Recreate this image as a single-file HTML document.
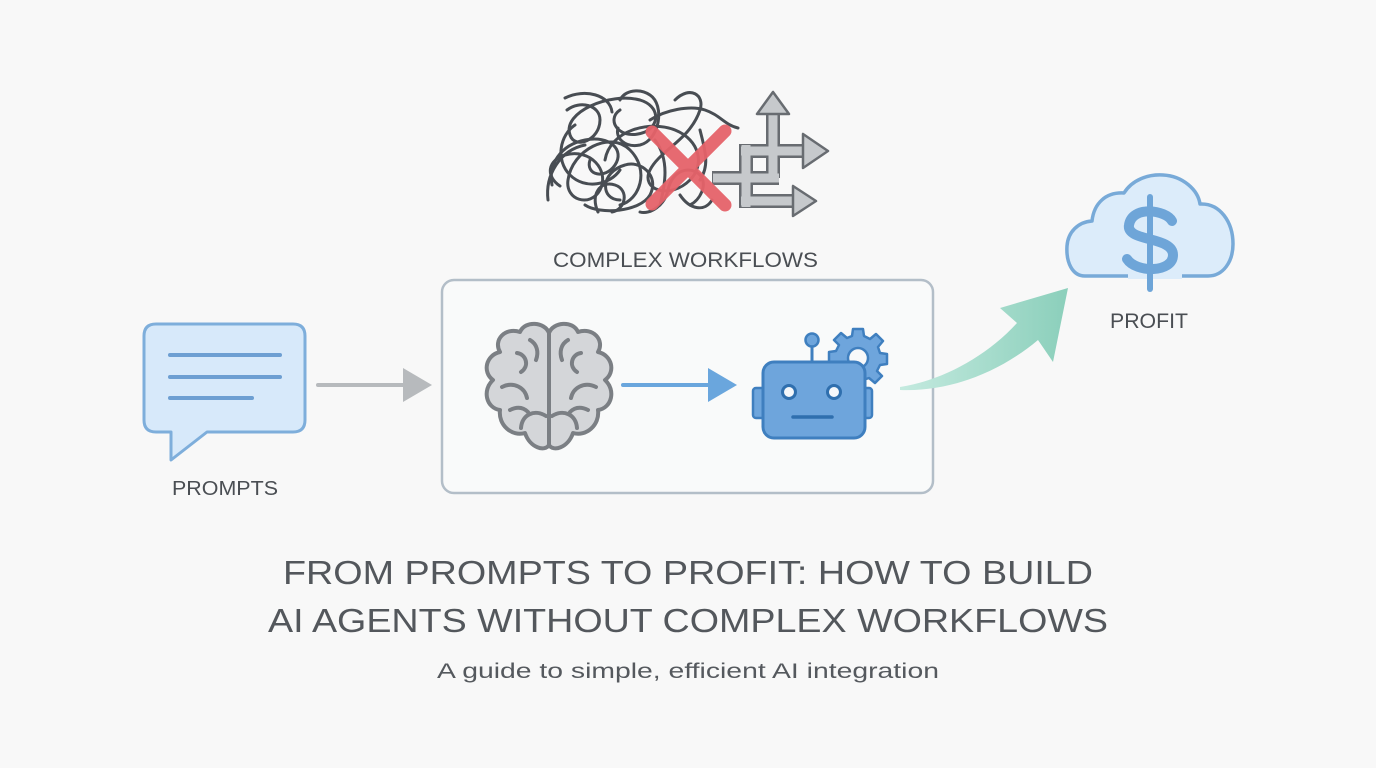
<!DOCTYPE html>
<html><head><meta charset="utf-8"><style>
html,body{margin:0;padding:0;background:#f8f8f8;}
svg{display:block;}
text{font-family:"Liberation Sans","DejaVu Sans",sans-serif;}
</style></head><body>
<svg width="1376" height="768" viewBox="0 0 1376 768" xmlns="http://www.w3.org/2000/svg">
<rect width="1376" height="768" fill="#f8f8f8"/>
<defs>
<linearGradient id="g1" x1="0" y1="0" x2="1" y2="0">
<stop offset="0" stop-color="#c4eadf"/><stop offset="1" stop-color="#8bcfbb"/>
</linearGradient>
</defs>

<!-- scribble -->
<g fill="none" stroke="#484d53" stroke-width="3" stroke-linecap="round">
<path d="M560,186 C545,176 548,160 565,155 C590,148 610,170 600,190 C590,208 565,200 568,180 C572,150 610,130 630,150 C650,170 640,200 620,205"/>
<path d="M567,110 C580,100 600,105 600,120 C600,140 575,150 570,135 C562,112 610,92 640,100 C660,106 660,125 645,132 C620,142 605,120 620,110"/>
<path d="M585,205 C600,215 640,212 650,195 C660,175 640,160 625,165 C600,172 600,200 620,200"/>
<path d="M605,160 C610,130 650,120 675,130 C700,140 705,165 690,180 C670,200 640,190 650,170 C660,150 690,140 700,110 C705,95 690,85 675,100"/>
<path d="M650,120 C665,110 690,105 705,110 C720,115 725,125 738,128"/>
<path d="M552,185 C548,165 560,145 585,140 C610,135 625,150 615,165 C605,180 585,175 590,160"/>
<path d="M575,125 C560,135 555,160 570,175 C585,190 610,185 620,170"/>
<path d="M640,212 C650,215 665,205 668,190 C672,170 690,165 700,175 C708,185 700,200 690,205"/>
<path d="M620,100 C625,90 640,88 650,95 C665,105 660,140 640,145 C625,148 615,138 618,128"/>
<path d="M700,130 C705,150 710,165 700,180"/>
<path d="M655,140 C670,160 665,185 660,205"/>
<path d="M548,200 C545,175 560,150 585,145"/>
<path d="M565,98 C585,88 610,95 612,112"/>
<path d="M598,212 C590,195 600,180 615,185 C630,190 625,210 612,212"/>
<path d="M680,195 C690,210 705,212 712,200"/>
</g>

<!-- gray pipes -->
<g fill="none" stroke-linecap="butt">
<g stroke="#686c71" stroke-width="14">
<path d="M712,178 H779"/><path d="M746,144 V208"/><path d="M773,178 V112"/><path d="M740,151 H805"/><path d="M740,201 H795"/>
</g>
<g stroke="#c6c9cc" stroke-width="9">
<path d="M713,178 H779"/><path d="M746,145 V207"/><path d="M773,178 V112"/><path d="M741,151 H805"/><path d="M741,201 H795"/>
</g>
</g>
<g fill="#c6c9cc" stroke="#686c71" stroke-width="2.5" stroke-linejoin="round">
<polygon points="757,114 789,114 773,92"/>
<polygon points="803,134 803,168 828,151"/>
<polygon points="793,186 793,216 816,201"/>
</g>

<!-- red X -->
<g stroke="#e6636a" stroke-width="13" stroke-linecap="round" opacity="0.95">
<line x1="652" y1="132" x2="725" y2="205"/>
<line x1="725" y1="131" x2="652" y2="204"/>
</g>

<text x="553" y="267" font-size="21" fill="#4a4e53" textLength="265" lengthAdjust="spacingAndGlyphs">COMPLEX WORKFLOWS</text>

<!-- speech bubble -->
<path d="M156,324 H293 Q305,324 305,336 V420 Q305,432 293,432 H207 L171,460 V432 H156 Q144,432 144,420 V336 Q144,324 156,324 Z" fill="#d7e9fa" stroke="#7eaedb" stroke-width="3" stroke-linejoin="round"/>
<g stroke="#6d9fd2" stroke-width="4" stroke-linecap="round">
<line x1="170" y1="355" x2="280" y2="355"/>
<line x1="170" y1="377" x2="280" y2="377"/>
<line x1="170" y1="398" x2="252" y2="398"/>
</g>
<text x="172" y="495" font-size="20" fill="#4a4e53" textLength="106" lengthAdjust="spacingAndGlyphs">PROMPTS</text>

<!-- gray arrow -->
<line x1="318" y1="385" x2="408" y2="385" stroke="#b7babd" stroke-width="4" stroke-linecap="round"/>
<polygon points="403,368 432,385 403,402" fill="#b7babd"/>

<!-- box -->
<rect x="442" y="280" width="491" height="213" rx="12" fill="#f9fafa" stroke="#b3bec8" stroke-width="2.5"/>

<!-- brain -->
<g fill="#d4d6d9" stroke="#7b7f84" stroke-width="4" stroke-linejoin="round">
<path d="M549,333 C545,322 525,320 520,332 C505,327 493,340 500,352 C486,355 482,372 493,380 C482,390 486,408 500,410 C498,425 512,437 525,433 C530,448 545,452 549,445 Z"/>
<path d="M549,333 C553,322 573,320 578,332 C593,327 605,340 598,352 C612,355 616,372 605,380 C616,390 612,408 598,410 C600,425 586,437 573,433 C568,448 553,452 549,445 Z"/>
</g>
<g fill="none" stroke="#7b7f84" stroke-width="4" stroke-linecap="round">
<path d="M517,353 C526,354 530,366 521,372"/>
<path d="M502,387 C514,381 525,388 527,398"/>
<path d="M521,428 C522,414 535,409 546,416"/>
<path d="M530,340 C537,344 539,352 536,360"/>
<path d="M510,410 C518,406 524,408 528,412"/>
<path d="M581,353 C572,354 568,366 577,372"/>
<path d="M596,387 C584,381 573,388 571,398"/>
<path d="M577,428 C576,414 563,409 552,416"/>
<path d="M568,340 C561,344 559,352 562,360"/>
<path d="M588,410 C580,406 574,408 570,412"/>
</g>

<!-- blue arrow -->
<line x1="623" y1="385" x2="713" y2="385" stroke="#6aa6dd" stroke-width="4" stroke-linecap="round"/>
<polygon points="708,368 737,385 708,402" fill="#6aa6dd"/>

<!-- gear -->
<g transform="translate(858,358)">
<g fill="#6ea5dc" stroke="#3f7fbf" stroke-width="2.5" stroke-linejoin="round">
<path d="M-5,-29 L5,-29 L6,-22 L12,-19 L18,-24 L25,-17 L20,-11 L22,-5 L29,-4 L29,6 L22,7 L19,13 L24,18 L17,25 L11,20 L5,22 L4,29 L-6,29 L-7,22 L-13,19 L-18,24 L-25,17 L-20,11 L-22,5 L-29,4 L-29,-6 L-22,-7 L-19,-13 L-24,-18 L-17,-25 L-11,-20 L-6,-22 Z"/>
</g>
<circle r="10" fill="#f8f9fa" stroke="#3f7fbf" stroke-width="2.5"/>
</g>

<!-- robot -->
<line x1="812" y1="345" x2="812" y2="363" stroke="#3f7fbf" stroke-width="3"/>
<circle cx="812" cy="340" r="6.5" fill="#6ea5dc" stroke="#3f7fbf" stroke-width="2.5"/>
<rect x="753" y="388" width="12" height="30" rx="3" fill="#6ea5dc" stroke="#3f7fbf" stroke-width="2.5"/>
<rect x="861" y="388" width="11" height="30" rx="3" fill="#6ea5dc" stroke="#3f7fbf" stroke-width="2.5"/>
<rect x="763" y="362" width="102" height="76" rx="11" fill="#6ea5dc" stroke="#3f7fbf" stroke-width="3"/>
<circle cx="789" cy="392" r="6.5" fill="#f4f7fa" stroke="#2f6fae" stroke-width="3"/>
<circle cx="834" cy="392" r="6.5" fill="#f4f7fa" stroke="#2f6fae" stroke-width="3"/>
<line x1="793" y1="417" x2="832" y2="417" stroke="#2f6fae" stroke-width="3.5" stroke-linecap="round"/>

<!-- green arrow -->
<path d="M900,387 C940,381 985,358 1017,323 L1000,308 L1068,288 L1053,362 L1038,340 C1000,372 950,392 900,390 Z" fill="url(#g1)"/>

<!-- cloud -->
<path d="M1085,276 C1072,276 1066,262 1067,246 C1068,232 1078,222 1092,221 C1094,203 1106,192 1124,193 C1132,180 1148,174 1163,175 C1183,176 1198,190 1200,204 C1220,203 1233,222 1233,244 C1233,262 1223,276 1208,276 Z" fill="#dcecfa" stroke="#78aad8" stroke-width="3.5" stroke-linejoin="round"/>
<rect x="1128" y="272" width="54" height="7" fill="#dcecfa"/>
<line x1="1150" y1="197" x2="1150" y2="289" stroke="#6ea5d8" stroke-width="6" stroke-linecap="round"/>
<path d="M1172,221 C1166,210 1132,205 1129,225 C1126,242 1173,236 1173,255 C1173,273 1136,273 1127,259" fill="none" stroke="#6ea5d8" stroke-width="10" stroke-linecap="round"/>
<text x="1110" y="328" font-size="21" fill="#4a4e53" textLength="78" lengthAdjust="spacingAndGlyphs">PROFIT</text>

<!-- title -->
<text x="283" y="584" font-size="33" fill="#53575c" textLength="810" lengthAdjust="spacingAndGlyphs">FROM PROMPTS TO PROFIT: HOW TO BUILD</text>
<text x="268" y="632" font-size="33" fill="#53575c" textLength="840" lengthAdjust="spacingAndGlyphs">AI AGENTS WITHOUT COMPLEX WORKFLOWS</text>
<text x="437" y="678" font-size="21" fill="#55595e" textLength="502" lengthAdjust="spacingAndGlyphs">A guide to simple, efficient AI integration</text>
</svg>
</body></html>
